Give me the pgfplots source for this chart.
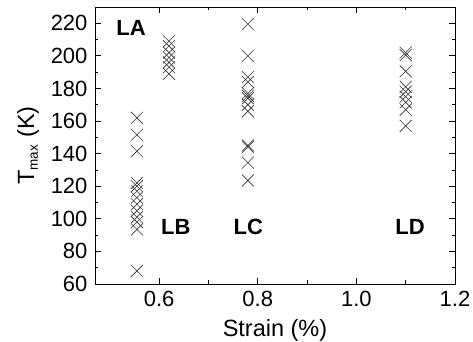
\documentclass[border=0pt]{standalone}
\usepackage{pgfplots}
\pgfplotsset{compat=1.18}
\usepackage{fontspec}
\setmainfont{Liberation Sans}
\begin{document}
\fontsize{22}{26}\selectfont
\begin{tikzpicture}
\useasboundingbox (-95pt,-58pt) rectangle (378pt,284pt);
\begin{axis}[
  scale only axis,
  width=360pt, height=277pt,
  xmin=0.47, xmax=1.2, ymin=60, ymax=230,
  xtick={0.6,0.8,1.0,1.2},
  xticklabels={0.6,0.8,1.0,1.2},
  ytick={60,80,...,220},
  minor x tick num=1, minor y tick num=1,
  tick align=inside,
  major tick length=6pt, minor tick length=3.5pt,
  tick style={black, line width=0.8pt},
  axis line style={line width=0.9pt},
  /pgf/number format/assume math mode=true,
  ticklabel style={font=\fontsize{22}{26}\selectfont},
  label style={font=\fontsize{23.5}{28}\selectfont},
  xlabel={Strain (\%)},
  ylabel={T\textsubscript{\fontsize{13.5}{15}\selectfont max} (K)},
  xlabel style={at={(axis description cs:0.5,-0.166)}, anchor=center},
  ylabel style={at={(axis description cs:-0.186,0.5)}, anchor=center},
  pts/.style={only marks, mark=x, mark size=8.5pt, color=black!80, mark options={line width=0.6pt}},
]
\addplot[pts] coordinates {
 (0.555,162) (0.555,151.5) (0.555,141.5) (0.555,122) (0.555,120) (0.555,117)
 (0.555,113) (0.555,109) (0.555,105) (0.555,101) (0.555,98) (0.555,93.5) (0.555,68)
};
\addplot[pts] coordinates {
 (0.62,209) (0.62,206) (0.62,202) (0.62,199) (0.62,196) (0.62,193) (0.62,189)
};
\addplot[pts] coordinates {
 (0.78,219.5) (0.78,200) (0.78,187) (0.78,184) (0.78,177) (0.78,175.5) (0.78,174)
 (0.78,170) (0.78,166) (0.78,145) (0.78,144) (0.78,134.5) (0.78,123.5)
};
\addplot[pts] coordinates {
 (1.1,202) (1.1,200.5) (1.1,190.5) (1.1,181) (1.1,178) (1.1,175) (1.1,171.5) (1.1,167) (1.1,157)
};
\node[font=\bfseries\fontsize{22}{26}\selectfont] at (axis cs:0.543,217) {LA};
\node[font=\bfseries\fontsize{22}{26}\selectfont] at (axis cs:0.634,95) {LB};
\node[font=\bfseries\fontsize{22}{26}\selectfont] at (axis cs:0.781,95) {LC};
\node[font=\bfseries\fontsize{22}{26}\selectfont] at (axis cs:1.109,95) {LD};
\end{axis}
\end{tikzpicture}
\end{document}
